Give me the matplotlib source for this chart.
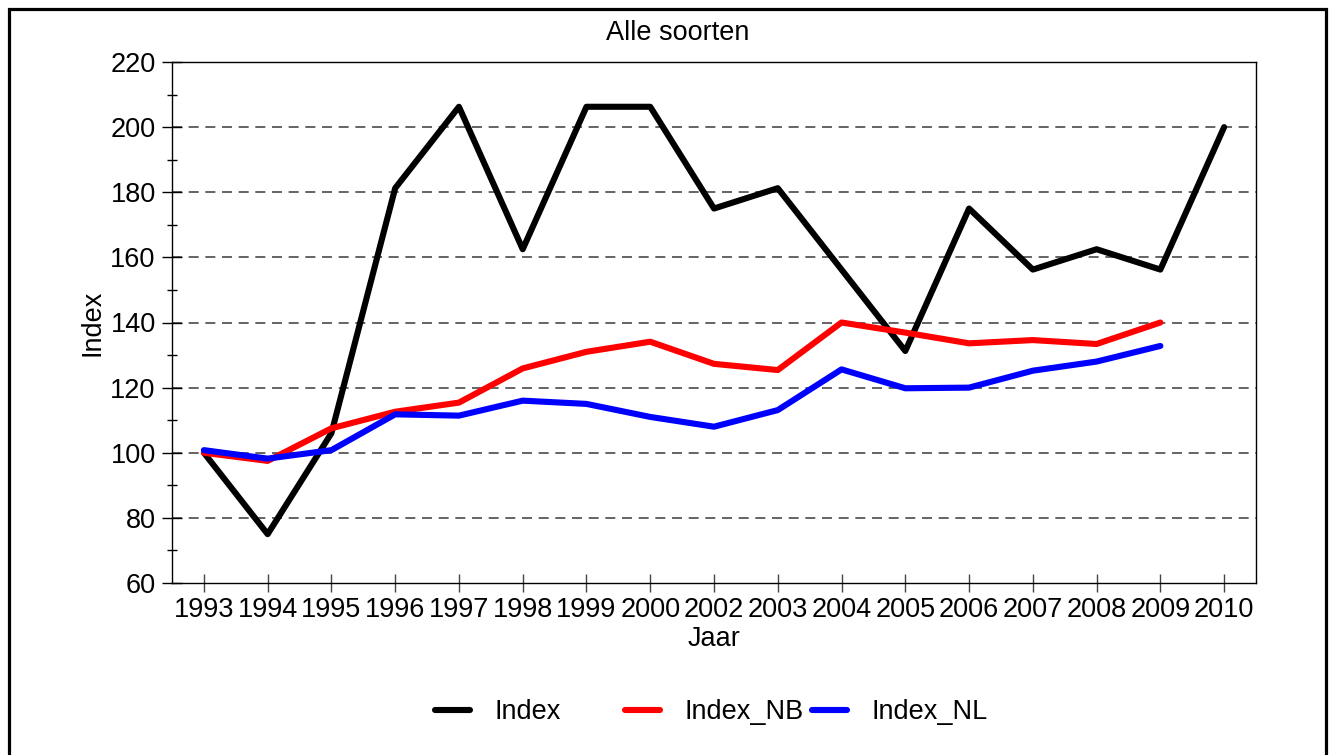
import numpy as np
import matplotlib.pyplot as plt
from matplotlib.patches import Rectangle
from matplotlib.ticker import MultipleLocator

plt.rcParams['font.family'] = ['Liberation Sans', 'DejaVu Sans']

# jaren (2001 ontbreekt)
jaren = ['1993', '1994', '1995', '1996', '1997', '1998', '1999', '2000', '2002',
         '2003', '2004', '2005', '2006', '2007', '2008', '2009', '2010']
index = [100, 75, 106, 181.25, 206.25, 162.5, 206.25, 206.25, 175,
         181.25, 156.25, 131.25, 175, 156.25, 162.5, 156.25, 200]
index_nb = [100, 97.5, 107.5, 112.6, 115.4, 125.9, 131, 134.1, 127.3,
            125.4, 140, 136.9, 133.6, 134.6, 133.4, 140, np.nan]
index_nl = [100.8, 98.2, 100.8, 111.8, 111.4, 116, 115, 111, 108,
            113.1, 125.6, 119.8, 120, 125.2, 128, 132.8, np.nan]

fig = plt.figure(figsize=(13.34, 7.55), dpi=100)
ax = fig.add_axes([172/1334, 1-583/755, (1256-172)/1334, (583-62)/755])

x = np.arange(len(jaren))
lijnen = []
for waarden, kleur, naam in [(index, 'black', 'Index'),
                             (index_nb, '#ff0000', 'Index_NB'),
                             (index_nl, '#0000ff', 'Index_NL')]:
    l, = ax.plot(x, waarden, color=kleur, lw=4.4, label=naam,
                 solid_capstyle='round', zorder=3)
    lijnen.append(l)

ax.set_xlim(-0.5, len(jaren) - 0.5)
ax.set_ylim(60, 220)
ax.set_xticks(x)
ax.set_xticklabels(jaren)
ax.yaxis.set_major_locator(MultipleLocator(20))
ax.yaxis.set_minor_locator(MultipleLocator(10))
ax.tick_params(axis='y', which='major', direction='inout', length=14.5,
               width=1, labelsize=19.5, pad=4.5)
ax.tick_params(axis='y', which='minor', direction='inout', length=7, width=1)
ax.tick_params(axis='x', direction='inout', length=13, width=1,
               labelsize=19.5, pad=3.5, color='#444444')

# gestippelde rasterlijnen
for v in range(80, 220, 20):
    ax.axhline(v, color='#4a4a4a', lw=1.2, ls=(0, (6, 4)), zorder=1)

for s in ax.spines.values():
    s.set_linewidth(1)

ax.set_xlabel('Jaar', fontsize=19.5)
ax.xaxis.set_label_coords(0.5, -0.083)
ax.set_ylabel('Index', fontsize=19.5)
ax.yaxis.set_label_coords(-0.061, 0.5)

fig.text(678/1334, 1-33/755, 'Alle soorten', fontsize=19.5, ha='center', va='center')

# legenda onderaan, drie losse items
for lijn, xpos in zip(lijnen, [435, 625, 812]):
    fig.legend(handles=[lijn], loc='center left',
               bbox_to_anchor=(xpos/1334, 1-712/755), frameon=False,
               fontsize=19.5, handlelength=1.3, handletextpad=0.9,
               borderpad=0, borderaxespad=0)

# rand om de figuur
fig.add_artist(Rectangle((8.5/1334, -0.05), (1326-8.5)/1334, 1.05-8.5/755,
                         transform=fig.transFigure, fill=False,
                         edgecolor='black', lw=2.3))

fig.savefig('out.png', dpi=100)
